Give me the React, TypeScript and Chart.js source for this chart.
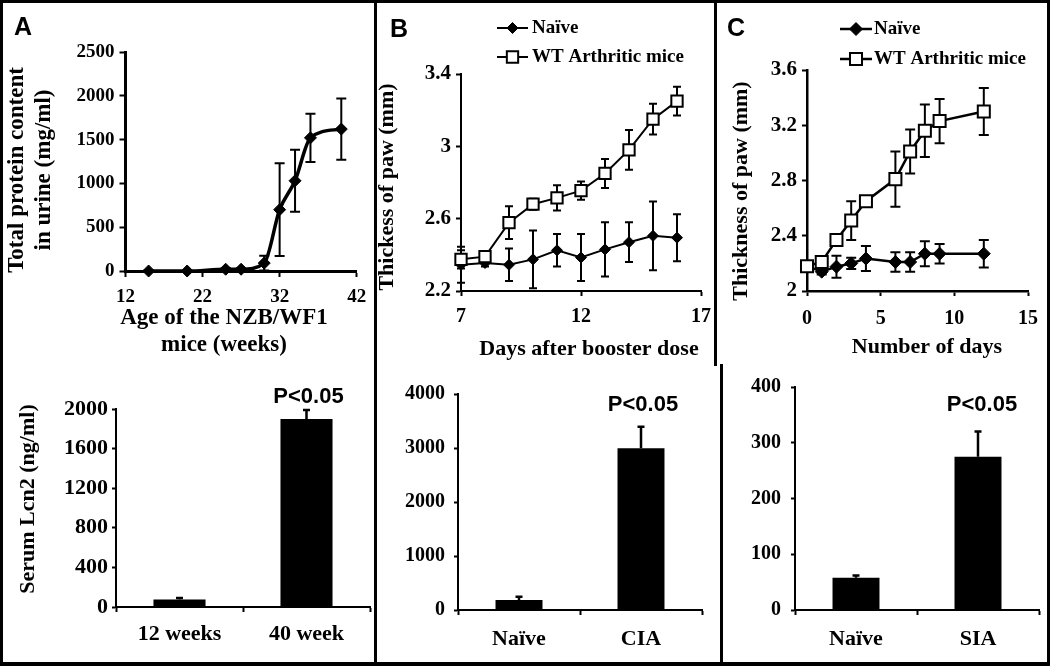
import React, { useEffect, useRef } from 'react';
import { Chart, registerables } from 'chart.js';

Chart.register(...registerables);

// ---------------- data ----------------
// Panel A (top): urinary protein vs age
const aAgeWeeks = [15, 20, 25, 27, 30, 32, 34, 36, 40];
const aProtein = [0, 0, 20, 20, 90, 700, 1030, 1520, 1620];
const aProteinErr = [5, 5, 10, 10, 85, 530, 355, 275, 350];

// Panel B (top): paw thickness after booster
const bDays = [7, 8, 9, 10, 11, 12, 13, 14, 15, 16];
const bNaive = [2.345, 2.355, 2.345, 2.375, 2.425, 2.385, 2.43, 2.47, 2.505, 2.495];
const bNaiveErr = [0.1, 0.02, 0.09, 0.16, 0.09, 0.13, 0.15, 0.11, 0.19, 0.13];
const bArthritic = [2.375, 2.39, 2.578, 2.68, 2.715, 2.755, 2.85, 2.98, 3.15, 3.25];
const bArthriticErr = [0.05, 0.02, 0.09, 0.03, 0.07, 0.05, 0.08, 0.11, 0.085, 0.08];

// Panel C (top): paw thickness vs days
const cDays = [0, 1, 2, 3, 4, 6, 7, 8, 9, 12];
const cNaive = [2.18, 2.14, 2.176, 2.2, 2.235, 2.21, 2.21, 2.27, 2.27, 2.27];
const cNaiveErr = [0.02, 0.02, 0.08, 0.04, 0.09, 0.07, 0.07, 0.09, 0.07, 0.1];
const cArthritic = [2.18, 2.21, 2.37, 2.51, 2.65, 2.81, 3.01, 3.16, 3.23, 3.3];
const cArthriticErr = [0.02, 0.02, 0.03, 0.14, 0.03, 0.2, 0.16, 0.19, 0.16, 0.17];

const seriesNames = ['Naïve', 'WT Arthritic mice'];

// Bottom bar panels
const aBarCategories = ['12 weeks', '40 week'];
const aBarValues = [75, 1900];
const aBarErr = [15, 90];
const bBarCategories = ['Naïve', 'CIA'];
const bBarValues = [185, 3000];
const bBarErr = [60, 400];
const cBarCategories = ['Naïve', 'SIA'];
const cBarValues = [58, 275];
const cBarErr = [4, 45];

const panelLetters = ['A', 'B', 'C'];
const significance = 'P<0.05';

const aLineYTitle = ['Total protein content', 'in urine (mg/ml)'];
const aLineXTitle = ['Age of the NZB/WF1', 'mice (weeks)'];
const bLineYTitle = ['Thickess of paw (mm)'];
const bLineXTitle = ['Days after booster dose'];
const cLineYTitle = ['Thickness of paw (mm)'];
const cLineXTitle = ['Number of days'];
const aBarYTitle = ['Serum Lcn2 (ng/ml)'];

// ---------------- styling helpers ----------------
const SERIF = "'Liberation Serif', 'Times New Roman', Times, serif";
const SANS = "'Liberation Sans', Arial, Helvetica, sans-serif";

type Rect = { left: number; top: number; width: number; height: number };
type Plot = { left: number; top: number; right: number; bottom: number };
type TitleSpec = { lines: string[]; x: number; y: number; vertical: boolean; size: number; lh: number };

function frame(rect: Rect, plot: Plot) {
  return {
    padding: {
      left: 0,
      top: plot.top - rect.top,
      right: rect.left + rect.width - plot.right,
      bottom: 0,
    },
    yW: plot.left - rect.left,
    xH: rect.top + rect.height - plot.bottom,
  };
}

function drawErrorBars(chart: any, upperPass: boolean) {
  const ctx = chart.ctx;
  chart.data.datasets.forEach((ds: any, di: number) => {
    if (!ds.errors || !!ds.upperOnly !== upperPass) return;
    const meta = chart.getDatasetMeta(di);
    const yScale = chart.scales[meta.yAxisID];
    meta.data.forEach((el: any, i: number) => {
      const raw = ds.data[i];
      const v = typeof raw === 'number' ? raw : raw.y;
      const e = ds.errors[i];
      const x = el.x;
      const yHi = yScale.getPixelForValue(v + e);
      const yLo = yScale.getPixelForValue(ds.upperOnly ? v : v - e);
      ctx.save();
      ctx.strokeStyle = '#000';
      ctx.lineWidth = ds.errorWidth;
      ctx.beginPath();
      ctx.moveTo(x, yLo);
      ctx.lineTo(x, yHi);
      ctx.moveTo(x - ds.errorCap, yHi);
      ctx.lineTo(x + ds.errorCap, yHi);
      if (!ds.upperOnly) {
        ctx.moveTo(x - ds.errorCap, yLo);
        ctx.lineTo(x + ds.errorCap, yLo);
      }
      ctx.stroke();
      ctx.restore();
    });
  });
}

const errorBarPlugin = {
  id: 'errorBars',
  beforeDatasetsDraw(chart: any) {
    drawErrorBars(chart, false);
  },
  afterDatasetsDraw(chart: any) {
    drawErrorBars(chart, true);
  },
};

function titlesPlugin(rect: Rect, titles: TitleSpec[]) {
  return {
    id: 'axisTitles',
    afterDraw(chart: any) {
      const ctx = chart.ctx;
      titles.forEach((t) => {
        ctx.save();
        ctx.fillStyle = '#000';
        ctx.font = `bold ${t.size}px ${SERIF}`;
        ctx.textAlign = 'center';
        ctx.textBaseline = 'middle';
        ctx.translate(t.x - rect.left, t.y - rect.top);
        if (t.vertical) ctx.rotate(-Math.PI / 2);
        t.lines.forEach((ln, i) => {
          ctx.fillText(ln, 0, i * t.lh);
        });
        ctx.restore();
      });
    },
  };
}

function drawMarker(ctx: CanvasRenderingContext2D, x: number, y: number, ds: any) {
  const r = ds.pointRadius;
  ctx.beginPath();
  if (ds.pointStyle === 'rectRot') {
    ctx.moveTo(x, y - r);
    ctx.lineTo(x + r, y);
    ctx.lineTo(x, y + r);
    ctx.lineTo(x - r, y);
    ctx.closePath();
  } else {
    const s = r * Math.SQRT1_2;
    ctx.rect(x - s, y - s, 2 * s, 2 * s);
  }
  ctx.fillStyle = ds.pointBackgroundColor;
  ctx.fill();
  ctx.lineWidth = ds.pointBorderWidth;
  ctx.strokeStyle = '#000';
  ctx.stroke();
}

function legendPlugin(rect: Rect, x0: number, x1: number, textX: number, rows: number[]) {
  return {
    id: 'seriesLegend',
    afterDraw(chart: any) {
      const ctx = chart.ctx;
      chart.data.datasets.forEach((ds: any, i: number) => {
        const y = rows[i] - rect.top;
        const a = x0 - rect.left;
        const b = x1 - rect.left;
        ctx.save();
        ctx.strokeStyle = '#000';
        ctx.lineWidth = ds.borderWidth;
        ctx.beginPath();
        ctx.moveTo(a, y);
        ctx.lineTo(b, y);
        ctx.stroke();
        drawMarker(ctx, (a + b) / 2, y, ds);
        ctx.fillStyle = '#000';
        ctx.font = `bold 19px ${SERIF}`;
        ctx.textBaseline = 'middle';
        ctx.textAlign = 'left';
        ctx.fillText(ds.label, textX - rect.left, y);
        ctx.restore();
      });
    },
  };
}

function pLabelPlugin(rect: Rect, yPage: number, dx: number) {
  return {
    id: 'pLabel',
    afterDatasetsDraw(chart: any) {
      const ctx = chart.ctx;
      const bar = chart.getDatasetMeta(0).data[1];
      ctx.save();
      ctx.fillStyle = '#000';
      ctx.font = `bold 22px ${SANS}`;
      ctx.textAlign = 'center';
      ctx.textBaseline = 'middle';
      ctx.fillText(significance, bar.x + dx, yPage - rect.top);
      ctx.restore();
    },
  };
}

function fmt(v: any) {
  return String(Math.round(Number(v) * 10) / 10);
}

function axisStyle(tickLen: number, border: number) {
  return {
    grid: {
      display: true,
      drawOnChartArea: false,
      drawTicks: true,
      tickLength: tickLen,
      tickWidth: 2,
      tickColor: '#000',
      color: '#000',
    },
    border: { display: true, color: '#000', width: border },
  };
}

function linAxis(p: any) {
  return {
    type: 'linear',
    min: p.min,
    max: p.max,
    afterFit: p.fit,
    ticks: {
      stepSize: p.step,
      color: '#000',
      padding: p.pad,
      font: { family: SERIF, size: p.size, weight: 'bold', lineHeight: 1.2 },
      callback: fmt,
    },
    ...axisStyle(p.tickLen, p.border),
    title: { display: false },
  };
}

// ---------------- chart configs ----------------
const rectAL: Rect = { left: 0, top: 20, width: 382, height: 345 };
const rectBL: Rect = { left: 370, top: 0, width: 352, height: 365 };
const rectCL: Rect = { left: 716, top: 0, width: 334, height: 365 };
const rectAB: Rect = { left: 0, top: 365, width: 382, height: 297 };
const rectBB: Rect = { left: 378, top: 365, width: 342, height: 297 };
const rectCB: Rect = { left: 722, top: 365, width: 328, height: 297 };

function baseOptions(padding: any, scales: any) {
  return {
    responsive: false,
    animation: false,
    events: [],
    layout: { padding },
    plugins: { legend: { display: false }, tooltip: { enabled: false }, title: { display: false } },
    scales,
  };
}

function configAL() {
  const f = frame(rectAL, { left: 125.5, top: 52, right: 356.7, bottom: 271 });
  return {
    type: 'line',
    data: {
      datasets: [
        {
          label: 'Total protein',
          data: aAgeWeeks.map((x, i) => ({ x, y: aProtein[i] })),
          borderColor: '#000',
          borderWidth: 3.5,
          pointStyle: 'rectRot',
          pointRadius: 6,
          pointBackgroundColor: '#000',
          pointBorderColor: '#000',
          pointBorderWidth: 1,
          cubicInterpolationMode: 'monotone',
          clip: false,
          errors: aProteinErr,
          errorWidth: 2,
          errorCap: 5,
        },
      ],
    },
    options: baseOptions(f.padding, {
      x: linAxis({ min: 12, max: 42, step: 10, size: 19, pad: 8.2, tickLen: 6, border: 3, fit: (s: any) => { s.height = f.xH; } }),
      y: linAxis({ min: 0, max: 2500, step: 500, size: 19, pad: 5, tickLen: 6, border: 3, fit: (s: any) => { s.width = f.yW; } }),
    }),
    plugins: [
      errorBarPlugin,
      titlesPlugin(rectAL, [
        { lines: aLineYTitle, x: 17.5, y: 170, vertical: true, size: 23, lh: 27 },
        { lines: aLineXTitle, x: 224, y: 318, vertical: false, size: 23, lh: 27 },
      ]),
    ],
  };
}

function pawDatasets(days: number[], naive: number[], naiveErr: number[], wt: number[], wtErr: number[], lw: number, dr: number, sr: number, cap: number) {
  return [
    {
      label: seriesNames[0],
      data: days.map((x, i) => ({ x, y: naive[i] })),
      borderColor: '#000',
      borderWidth: lw,
      pointStyle: 'rectRot',
      pointRadius: dr,
      pointBackgroundColor: '#000',
      pointBorderColor: '#000',
      pointBorderWidth: 1,
      tension: 0,
      clip: false,
      order: 1,
      errors: naiveErr,
      errorWidth: 2,
      errorCap: cap,
    },
    {
      label: seriesNames[1],
      data: days.map((x, i) => ({ x, y: wt[i] })),
      borderColor: '#000',
      borderWidth: lw,
      pointStyle: 'rect',
      pointRadius: sr,
      pointBackgroundColor: '#fff',
      pointBorderColor: '#000',
      pointBorderWidth: 2,
      tension: 0,
      clip: false,
      order: 0,
      errors: wtErr,
      errorWidth: 2,
      errorCap: cap,
    },
  ];
}

function configBL() {
  const f = frame(rectBL, { left: 461, top: 74, right: 701, bottom: 291 });
  return {
    type: 'line',
    data: { datasets: pawDatasets(bDays, bNaive, bNaiveErr, bArthritic, bArthriticErr, 2, 5.5, 8, 4) },
    options: baseOptions(f.padding, {
      x: linAxis({ min: 7, max: 17, step: 5, size: 20, pad: 9, tickLen: 5, border: 2, fit: (s: any) => { s.height = f.xH; } }),
      y: linAxis({ min: 2.2, max: 3.4, step: 0.4, size: 21, pad: 5, tickLen: 5, border: 2, fit: (s: any) => { s.width = f.yW; } }),
    }),
    plugins: [
      errorBarPlugin,
      legendPlugin(rectBL, 497, 528, 532, [28, 57]),
      titlesPlugin(rectBL, [
        { lines: bLineYTitle, x: 387, y: 187, vertical: true, size: 22, lh: 26 },
        { lines: bLineXTitle, x: 589, y: 349, vertical: false, size: 22, lh: 26 },
      ]),
    ],
  };
}

function configCL() {
  const f = frame(rectCL, { left: 807, top: 70, right: 1028, bottom: 291 });
  return {
    type: 'line',
    data: { datasets: pawDatasets(cDays, cNaive, cNaiveErr, cArthritic, cArthriticErr, 2.5, 6.5, 8.5, 5) },
    options: baseOptions(f.padding, {
      x: linAxis({ min: 0, max: 15, step: 5, size: 20, pad: 11, tickLen: 5, border: 2.5, fit: (s: any) => { s.height = f.xH; } }),
      y: linAxis({ min: 2, max: 3.6, step: 0.4, size: 21, pad: 5, tickLen: 5, border: 2.5, fit: (s: any) => { s.width = f.yW; } }),
    }),
    plugins: [
      errorBarPlugin,
      legendPlugin(rectCL, 840, 872, 874, [29, 59]),
      titlesPlugin(rectCL, [
        { lines: cLineYTitle, x: 741, y: 191, vertical: true, size: 22, lh: 26 },
        { lines: cLineXTitle, x: 927, y: 347, vertical: false, size: 22, lh: 26 },
      ]),
    ],
  };
}

function barConfig(rect: Rect, plot: Plot, yTitle: TitleSpec | null, cats: string[], vals: number[], errs: number[], ymax: number, step: number, ytickSize: number, ytickPad: number, xtickPad: number, barPct: number, pY: number, pDx: number) {
  const f = frame(rect, plot);
  const plugins: any[] = [errorBarPlugin, pLabelPlugin(rect, pY, pDx)];
  if (yTitle) plugins.push(titlesPlugin(rect, [yTitle]));
  return {
    type: 'bar',
    data: {
      labels: cats,
      datasets: [
        {
          label: 'Serum Lcn2',
          data: vals,
          backgroundColor: '#000',
          borderWidth: 0,
          barPercentage: barPct,
          categoryPercentage: 1,
          errors: errs,
          upperOnly: true,
          errorWidth: 2.5,
          errorCap: 3.5,
        },
      ],
    },
    options: baseOptions(f.padding, {
      x: {
        type: 'category',
        offset: true,
        afterFit: (s: any) => { s.height = f.xH; },
        ticks: { color: '#000', padding: xtickPad, font: { family: SERIF, size: 22, weight: 'bold' } },
        border: { display: true, color: '#000', width: 2 },
        grid: { display: true, offset: true, drawOnChartArea: false, drawTicks: true, tickLength: 5, tickWidth: 2, tickColor: '#000', color: '#000' },
      },
      y: linAxis({ min: 0, max: ymax, step, size: ytickSize, pad: ytickPad, tickLen: 4, border: 2, fit: (s: any) => { s.width = f.yW; } }),
    }),
    plugins,
  };
}

function configAB() {
  return barConfig(
    rectAB,
    { left: 116, top: 409, right: 370, bottom: 607 },
    { lines: aBarYTitle, x: 28, y: 499, vertical: true, size: 22, lh: 26 },
    aBarCategories, aBarValues, aBarErr, 2000, 400, 22, 4, 8.8, 0.41, 397, 2
  );
}
function configBB() {
  return barConfig(rectBB, { left: 458, top: 394.3, right: 702, bottom: 610 }, null, bBarCategories, bBarValues, bBarErr, 4000, 1000, 20, 9, 10.8, 0.385, 405, 2);
}
function configCB() {
  return barConfig(rectCB, { left: 795, top: 385, right: 1039, bottom: 610 }, null, cBarCategories, cBarValues, cBarErr, 400, 100, 20, 10, 10.8, 0.385, 405, 4);
}

// ---------------- components ----------------
function ChartCanvas({ rect, make }: { rect: Rect; make: () => any }) {
  const ref = useRef<HTMLCanvasElement | null>(null);
  useEffect(() => {
    if (!ref.current) return;
    const chart = new Chart(ref.current, make());
    return () => chart.destroy();
  }, []);
  return (
    <canvas
      ref={ref}
      width={rect.width}
      height={rect.height}
      style={{ position: 'absolute', left: rect.left, top: rect.top, width: rect.width, height: rect.height }}
    />
  );
}

const line = (style: React.CSSProperties) => (
  <div style={{ position: 'absolute', background: '#000', zIndex: 5, ...style }} />
);

export default function App() {
  const letterPos = [
    { left: 14, top: 14 },
    { left: 390, top: 16 },
    { left: 727, top: 15 },
  ];
  return (
    <div style={{ position: 'absolute', left: 0, top: 0, width: 1050, height: 666, background: '#fff', overflow: 'hidden' }}>
      <ChartCanvas rect={rectAL} make={configAL} />
      <ChartCanvas rect={rectBL} make={configBL} />
      <ChartCanvas rect={rectCL} make={configCL} />
      <ChartCanvas rect={rectAB} make={configAB} />
      <ChartCanvas rect={rectBB} make={configBB} />
      <ChartCanvas rect={rectCB} make={configCB} />
      {panelLetters.map((t, i) => (
        <div
          key={t}
          style={{
            position: 'absolute',
            left: letterPos[i].left,
            top: letterPos[i].top,
            fontFamily: SANS,
            fontWeight: 'bold',
            fontSize: 25,
            lineHeight: '25px',
            color: '#000',
          }}
        >
          {t}
        </div>
      ))}
      {line({ left: 0, top: 0, width: 1050, height: 3 })}
      {line({ left: 0, top: 662, width: 1050, height: 4 })}
      {line({ left: 0, top: 0, width: 3, height: 666 })}
      {line({ left: 1047, top: 0, width: 3, height: 666 })}
      {line({ left: 374, top: 0, width: 3, height: 666 })}
      {line({ left: 714, top: 0, width: 3, height: 366 })}
      {line({ left: 720, top: 364, width: 3, height: 302 })}
    </div>
  );
}
